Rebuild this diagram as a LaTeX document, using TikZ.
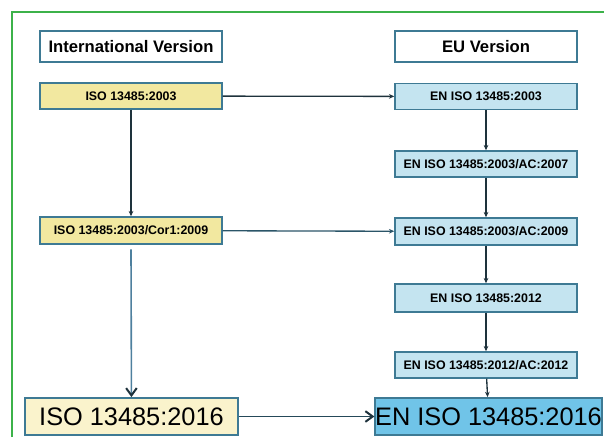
\documentclass[tikz,border=0pt]{standalone}
\usepackage{fontspec}
\setmainfont{Liberation Sans}
\usetikzlibrary{arrows.meta}

\definecolor{frameGreen}{RGB}{60,178,74}
\definecolor{boxLine}{RGB}{62,122,148}
\definecolor{intlFill}{RGB}{242,232,160}
\definecolor{intlFillBig}{RGB}{250,243,204}
\definecolor{euFill}{RGB}{196,228,240}
\definecolor{euFillBig}{RGB}{112,196,232}
\definecolor{arrowLine}{RGB}{30,50,60}
\definecolor{longLine}{RGB}{78,128,158}

\begin{document}
\begin{tikzpicture}[x=0.75pt,y=-0.75pt,
    headbox/.style={draw=boxLine, line width=1.1pt, fill=white, minimum width=136.5pt,
      minimum height=23.25pt, inner sep=0pt, font=\fontsize{12.5}{15}\selectfont\bfseries},
    isobox/.style={draw=boxLine, line width=1.1pt, fill=intlFill, minimum width=136.5pt,
      inner sep=0pt, font=\fontsize{9.3}{11}\selectfont\bfseries},
    enbox/.style={isobox, fill=euFill},
    bigbox/.style={draw=boxLine, line width=1.1pt, minimum height=28pt, inner sep=0pt,
      font=\fontsize{19}{22}\selectfont},
    arr/.style={draw=arrowLine, line width=1pt, -{Stealth[length=4pt,width=3.5pt]}},
    barb/.style={line width=1.2pt, -{Straight Barb[length=5.5pt,width=8pt,line width=1.5pt,color=arrowLine]}}
  ]
    \useasboundingbox (0,0) rectangle (604,437);
    \draw[frameGreen, line width=1.6pt] (12,437) -- (12,12) -- (604,12);

    % column heads
    \node[headbox] (intl) at (131,46.5) {International Version};
    \node[headbox] (eu) at (486,46.5) {EU Version};

    % international column
    \node[isobox, minimum height=19.5pt] (iso03) at (131,96) {ISO 13485:2003};
    \node[isobox, minimum height=20.25pt] (iso09) at (131,230.5) {ISO 13485:2003/Cor1:2009};
    \node[bigbox, fill=intlFillBig, minimum width=159.75pt] (iso16) at (131.5,416.5) {ISO 13485:2016};

    % EU column
    \foreach \n/\y/\h/\t in {en03/96.5/19.5/{EN ISO 13485:2003},
                            en07/164/19.5/{EN ISO 13485:2003/AC:2007},
                            en09/231.5/20.25/{EN ISO 13485:2003/AC:2009},
                            en12/298/21/{EN ISO 13485:2012},
                            en12ac/365/19.5/{EN ISO 13485:2012/AC:2012}}{
      \node[enbox, minimum height=\h pt] (\n) at (486,\y) {\t};
    }
    \node[bigbox, fill=euFillBig, minimum width=156.75pt] (en16) at (488.5,416.5) {EN ISO 13485:2016};

    % connectors
    \foreach \a/\b in {en03/en07, en07/en09, en09/en12, en12/en12ac, en12ac/en16}
      \draw[arr] (\a) -- (\b);
    \draw[arr] (iso03) -- (iso09);
    \draw[arr] (iso03) -- (en03);
    \draw[arr, draw=boxLine!70!black] (iso09) -- (en09);
    \draw[barb, draw=longLine] ([yshift=-3.5pt]iso09.south) -- (iso16);
    \draw[barb, draw=boxLine!60!black] (iso16) -- (en16);
\end{tikzpicture}
\end{document}
